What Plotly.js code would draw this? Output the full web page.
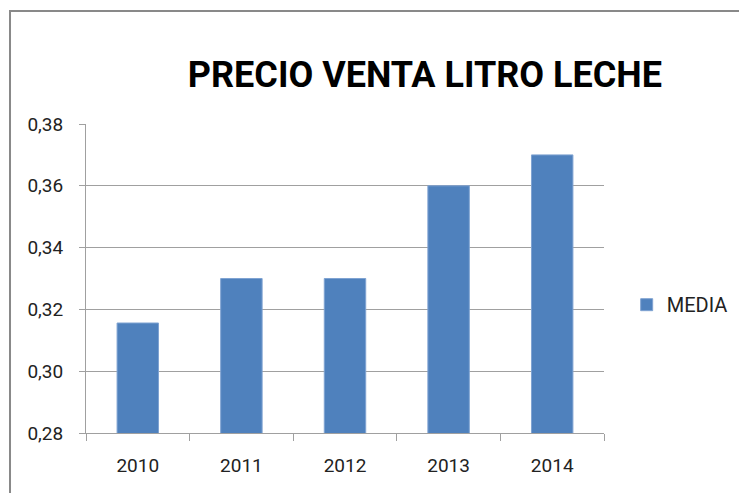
<!DOCTYPE html>
<html><head><meta charset="utf-8">
<script src="https://cdn.plot.ly/plotly-3.0.1.min.js"></script>
<style>html,body{margin:0;padding:0;background:#fff;}#chart{width:739px;height:493px;}</style>
</head><body><div id="chart"></div>
<script>
const years = ['2010', '2011', '2012', '2013', '2014'];
const media = [0.3156, 0.33, 0.33, 0.36, 0.37];
const seriesName = 'MEDIA';
const chartTitle = 'PRECIO VENTA LITRO LECHE';
const FONT = 'Roboto, "Open Sans", Arial, sans-serif';

const trace = {
  type: 'bar', x: years, y: media, name: seriesName, showlegend: true,
  marker: {color: '#4F81BD', line: {color: '#7FA3D2', width: 1}}
};
const layout = {
  width: 739, height: 493,
  margin: {l: 86, r: 135, t: 124, b: 60, autoexpand: false},
  paper_bgcolor: '#fff', plot_bgcolor: '#fff',
  separators: ',.',
  font: {family: FONT, color: '#222', size: 19},
  title: {text: '<b>' + chartTitle + '</b>', font: {family: FONT, size: 36, color: '#000'},
          x: 0.575, xref: 'container', xanchor: 'center', y: 0.85, yref: 'container', yanchor: 'middle'},
  bargap: 0.6,
  xaxis: {type: 'category', showgrid: false, showline: true, linecolor: '#A0A0A0', linewidth: 1,
          ticks: 'outside', tickson: 'boundaries', ticklen: 7, tickcolor: '#A0A0A0',
          ticklabelstandoff: 15,
          tickfont: {family: FONT, size: 19, color: '#222'}, zeroline: false},
  yaxis: {range: [0.28, 0.38], dtick: 0.02, tick0: 0.28, tickformat: '.2f',
          showgrid: true, gridcolor: '#A0A0A0', gridwidth: 1,
          showline: true, linecolor: '#A0A0A0', linewidth: 1,
          ticks: 'outside', ticklen: 6, tickcolor: '#A0A0A0',
          ticklabelstandoff: 12,
          tickfont: {family: FONT, size: 19, color: '#222'}, zeroline: false},
  showlegend: true,
  legend: {x: 0.848, xref: 'container', y: 0.382, yref: 'container', xanchor: 'left', yanchor: 'middle',
           font: {family: FONT, size: 20, color: '#222'},
           bgcolor: 'rgba(0,0,0,0)', itemwidth: 30},
  shapes: [{type: 'rect', xref: 'paper', yref: 'paper', x0: -0.1467, x1: 2, y0: -1, y1: 1.3657,
            line: {color: '#898989', width: 2}, fillcolor: 'rgba(0,0,0,0)', layer: 'above'}]
};
Plotly.newPlot('chart', [trace], layout, {displayModeBar: false, staticPlot: true});
</script></body></html>
